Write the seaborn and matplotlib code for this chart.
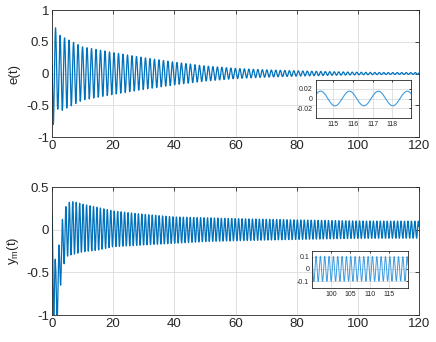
import numpy as np
import pandas as pd
import matplotlib
matplotlib.use('Agg')
import matplotlib.pyplot as plt
import seaborn as sns
from matplotlib.ticker import FormatStrFormatter

# e(t): envelope, oscillation period from the inset
e_period = 1.47
e_peak_time = 1.16
e_knot_t = [0, 0.43, 1.16, 1.9, 2.63, 3.37, 5, 10, 20, 30, 40, 50, 60, 70, 80, 90, 100, 110, 120]
e_knot_amp = [0.6, 0.8, 0.72, 0.56, 0.6, 0.58, 0.54, 0.42, 0.33, 0.25, 0.18, 0.12, 0.08, 0.058, 0.042,
              0.03, 0.02, 0.015, 0.0145]

# y_m(t): running mean and amplitude
ym_period = 1.13
ym_knot_t = [0, 0.565, 1.13, 1.695, 2.26, 2.825, 3.39, 3.955, 4.52, 5.085, 5.65, 7, 10, 15, 20, 30, 40,
             50, 60, 80, 100, 120]
ym_knot_mean = [-0.45, -0.45, -0.75, -0.75, -0.42, -0.42, -0.14, -0.14, -0.02, -0.02, 0.01, 0.02, 0.02,
                0.01, 0.01, 0.0, -0.005, 0.0, 0.0, 0.0, 0.0, 0.0]
ym_knot_amp = [0.65, 0.7, 0.35, 0.35, 0.24, 0.23, 0.26, 0.26, 0.29, 0.29, 0.31, 0.31, 0.28, 0.25, 0.21,
               0.18, 0.155, 0.14, 0.13, 0.115, 0.102, 0.1]

x_ticks = [0, 20, 40, 60, 80, 100, 120]
e_yticks = [-1, -0.5, 0, 0.5, 1]
ym_yticks = [-1, -0.5, 0, 0.5]
e_inset_xticks = [115, 116, 117, 118]
e_inset_yticks = [-0.02, 0, 0.02]
ym_inset_xticks = [100, 105, 110, 115]
ym_inset_yticks = [-0.1, 0, 0.1]

t = np.arange(0, 120.0001, 0.01)
e_sig = np.interp(t, e_knot_t, e_knot_amp) * np.cos(2 * np.pi / e_period * (t - e_peak_time))
ym_sig = np.interp(t, ym_knot_t, ym_knot_mean) + \
    np.interp(t, ym_knot_t, ym_knot_amp) * np.cos(2 * np.pi / ym_period * t)
df = pd.DataFrame({'t': t, 'e': e_sig, 'ym': ym_sig})

sns.set_style('white')
plt.rcParams['font.family'] = ['Liberation Sans', 'DejaVu Sans']
plt.rcParams['axes.unicode_minus'] = False
plt.rcParams['mathtext.fontset'] = 'custom'
plt.rcParams['mathtext.rm'] = 'Liberation Sans'

kleur = '#0072BD'
rand = '#262626'


def opmaak(ax, fs, lengte):
    for s in ax.spines.values():
        s.set_color(rand)
        s.set_linewidth(0.6)
    ax.grid(True, color='#dcdcdc', linewidth=0.6)
    ax.tick_params(direction='in', top=True, right=True, length=lengte, width=0.6,
                   labelsize=fs, colors=rand, pad=2)
    ax.set_xlabel('')
    ax.set_ylabel('')


fig = plt.figure(figsize=(4.36, 3.42), dpi=100)

ax1 = fig.add_axes([0.1193, 0.5994, 0.8417, 0.3713])
sns.lineplot(data=df, x='t', y='e', ax=ax1, color=kleur, linewidth=0.9, estimator=None, sort=False)
ax1.set_xlim(0, 120)
ax1.set_ylim(-1, 1)
ax1.set_xticks(x_ticks)
ax1.set_yticks(e_yticks)
ax1.yaxis.set_major_formatter(FormatStrFormatter('%g'))
opmaak(ax1, 9.5, 3)
ax1.set_ylabel('e(t)', fontsize=9.5, color=rand, labelpad=4)

ax2 = fig.add_axes([0.1193, 0.0789, 0.8417, 0.3743])
sns.lineplot(data=df, x='t', y='ym', ax=ax2, color=kleur, linewidth=0.9, estimator=None, sort=False)
ax2.set_xlim(0, 120)
ax2.set_ylim(-1, 0.5)
ax2.set_xticks(x_ticks)
ax2.set_yticks(ym_yticks)
ax2.yaxis.set_major_formatter(FormatStrFormatter('%g'))
opmaak(ax2, 9.5, 3)
ax2.set_ylabel(r'$\mathregular{y_m(t)}$', fontsize=9.5, color=rand, labelpad=4)

# inzoom e(t)
in1 = fig.add_axes([0.724, 0.655, 0.2186, 0.111])
sub1 = df[(df['t'] >= 114.1) & (df['t'] <= 118.95)]
sns.lineplot(data=sub1, x='t', y='e', ax=in1, color='#3d9be0', linewidth=0.8, estimator=None, sort=False)
in1.set_xlim(114.1, 118.95)
in1.set_ylim(-0.039, 0.037)
in1.set_xticks(e_inset_xticks)
in1.set_yticks(e_inset_yticks)
in1.yaxis.set_major_formatter(FormatStrFormatter('%g'))
opmaak(in1, 5, 1.5)
in1.set_facecolor('white')

# inzoom y_m(t)
in2 = fig.add_axes([0.7156, 0.158, 0.2202, 0.108])
sub2 = df[(df['t'] >= 95) & (df['t'] <= 120)]
sns.lineplot(data=sub2, x='t', y='ym', ax=in2, color='#3d9be0', linewidth=0.7, estimator=None, sort=False)
in2.set_xlim(95, 120)
in2.set_ylim(-0.157, 0.146)
in2.set_xticks(ym_inset_xticks)
in2.set_yticks(ym_inset_yticks)
in2.yaxis.set_major_formatter(FormatStrFormatter('%g'))
opmaak(in2, 5, 1.5)
in2.set_facecolor('white')

fig.savefig('out.png', dpi=100)
